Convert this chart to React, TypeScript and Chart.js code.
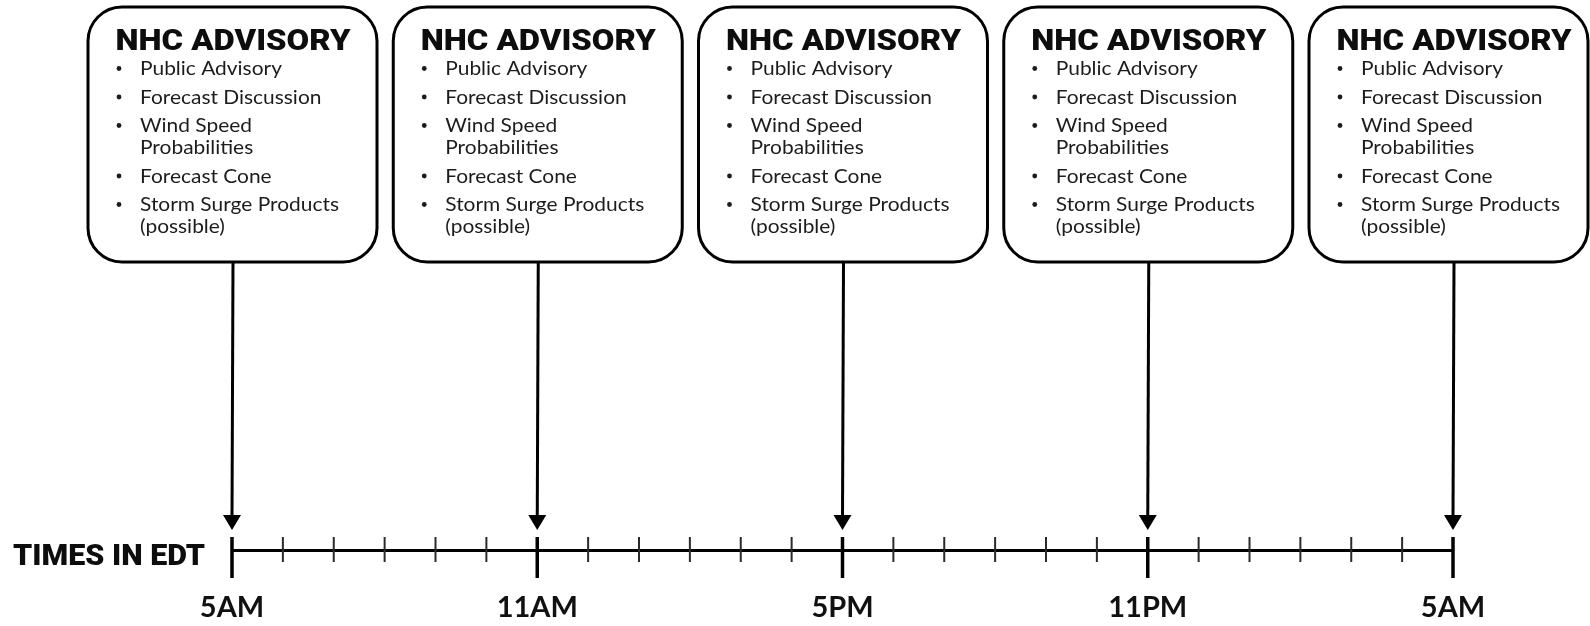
import React, { useEffect, useRef } from 'react';
import { Chart, registerables } from 'chart.js';

Chart.register(...registerables);

// ---- data ----
const hourTicks = [0, 1, 2, 3, 4, 5, 6, 7, 8, 9, 10, 11, 12, 13, 14, 15, 16, 17, 18, 19, 20, 21, 22, 23, 24];
const advisoryHours = [0, 6, 12, 18, 24];
const timeLabels = ['5AM', '11AM', '5PM', '11PM', '5AM'];
const boxTitle = 'NHC ADVISORY';
const advisoryProducts = [
  ['Public Advisory'],
  ['Forecast Discussion'],
  ['Wind Speed', 'Probabilities'],
  ['Forecast Cone'],
  ['Storm Surge Products', '(possible)'],
];
const axisTitle = 'TIMES IN EDT';

const HEAVY = '"Roboto", "Lato", "DejaVu Sans", sans-serif';
const BODY = '"Lato", "Open Sans", sans-serif';

function stretchedText(ctx: CanvasRenderingContext2D, text: string, x: number, y: number, font: string, targetW: number, align: CanvasTextAlign) {
  ctx.save();
  ctx.font = font;
  const w = ctx.measureText(text).width;
  const sx = targetW / w;
  ctx.translate(x, y);
  ctx.scale(sx, 1);
  ctx.textAlign = align;
  ctx.textBaseline = 'alphabetic';
  ctx.fillText(text, 0, 0);
  ctx.restore();
}

const diagramPlugin = {
  id: 'advisoryDiagram',
  afterDraw(chart: any) {
    const ctx: CanvasRenderingContext2D = chart.ctx;
    const xs = chart.scales.x;
    const base = chart.chartArea.bottom;
    const W = chart.width;
    ctx.save();
    ctx.lineCap = 'butt';

    // hourly ticks
    hourTicks.forEach((h) => {
      const x = xs.getPixelForValue(h);
      const major = advisoryHours.includes(h);
      ctx.beginPath();
      ctx.strokeStyle = major ? '#000' : '#2a2a2a';
      ctx.lineWidth = major ? 3.5 : 2;
      ctx.moveTo(x, base - 13);
      ctx.lineTo(x, major ? base + 28 : base + 12);
      ctx.stroke();
    });

    // axis title
    ctx.fillStyle = '#0d0d0d';
    stretchedText(ctx, axisTitle, 13, base + 15, `900 30px ${HEAVY}`, 192, 'left');

    // bullet text scale (fit reference width)
    const bodyFont = `19px ${BODY}`;
    ctx.font = bodyFont;
    const bodySx = 199 / ctx.measureText('Storm Surge Products').width;

    const meta = chart.getDatasetMeta(0);
    const boxTop = 7;
    const boxBottom = 262;
    meta.data.forEach((pt: any) => {
      const x = pt.x;
      // arrow shaft
      ctx.beginPath();
      ctx.strokeStyle = '#000';
      ctx.lineWidth = 3;
      ctx.moveTo(x + 1, boxBottom);
      ctx.lineTo(x, base - 33);
      ctx.stroke();
      // arrow head
      ctx.beginPath();
      ctx.fillStyle = '#000';
      ctx.moveTo(x - 9, base - 35);
      ctx.lineTo(x + 9, base - 35);
      ctx.lineTo(x, base - 20);
      ctx.closePath();
      ctx.fill();

      // box
      const left = x - 144;
      const right = Math.min(x + 145, W - 2);
      ctx.beginPath();
      ctx.lineWidth = 3;
      ctx.strokeStyle = '#000';
      ctx.fillStyle = '#fff';
      (ctx as any).roundRect(left, boxTop, right - left, boxBottom - boxTop, 34);
      ctx.fill();
      ctx.stroke();

      // title
      ctx.fillStyle = '#0d0d0d';
      stretchedText(ctx, boxTitle, x + 1, 50, `900 29px ${HEAVY}`, 235, 'center');

      // bullets
      ctx.fillStyle = '#1c1c1c';
      let y = 75;
      advisoryProducts.forEach((lines) => {
        ctx.beginPath();
        ctx.arc(x - 113, y - 6.5, 2.4, 0, Math.PI * 2);
        ctx.fill();
        lines.forEach((ln, k) => {
          ctx.save();
          ctx.font = bodyFont;
          ctx.textAlign = 'left';
          ctx.textBaseline = 'alphabetic';
          ctx.translate(x - 92, y + k * 22);
          ctx.scale(bodySx, 1);
          ctx.fillText(ln, 0, 0);
          ctx.restore();
        });
        y += (lines.length - 1) * 22 + 28.5;
      });
    });
    ctx.restore();
  },
};

export default function App() {
  const ref = useRef<HTMLCanvasElement | null>(null);
  useEffect(() => {
    if (!ref.current) return;
    const chart = new Chart(ref.current, {
      type: 'scatter',
      data: {
        datasets: [
          {
            label: 'NHC advisories',
            data: advisoryHours.map((h) => ({ x: h, y: 0 })),
            pointRadius: 0,
            showLine: false,
          },
        ],
      },
      options: {
        animation: false,
        responsive: false,
        events: [],
        layout: { padding: { left: 232, right: 137, top: 0, bottom: 0 } },
        plugins: { legend: { display: false }, tooltip: { enabled: false } },
        scales: {
          x: {
            type: 'linear',
            min: 0,
            max: 24,
            afterFit: (s: any) => {
              s.height = 76;
            },
            grid: { display: false, drawTicks: false },
            border: { display: true, color: '#000', width: 3 },
            ticks: {
              stepSize: 1,
              autoSkip: false,
              maxRotation: 0,
              padding: 40,
              color: '#111',
              font: { family: 'Lato', weight: 'bold', size: 29 },
              callback: (v: any) => {
                const i = advisoryHours.indexOf(Number(v));
                return i >= 0 ? timeLabels[i] : '';
              },
            },
          },
          y: { display: false, min: 0, max: 1 },
        },
      },
      plugins: [diagramPlugin],
    });
    return () => chart.destroy();
  }, []);
  return (
    <div style={{ position: 'absolute', left: 0, top: 0, width: 1590, height: 626, background: '#fff' }}>
      <canvas ref={ref} width={1590} height={626} style={{ display: 'block' }} />
    </div>
  );
}
